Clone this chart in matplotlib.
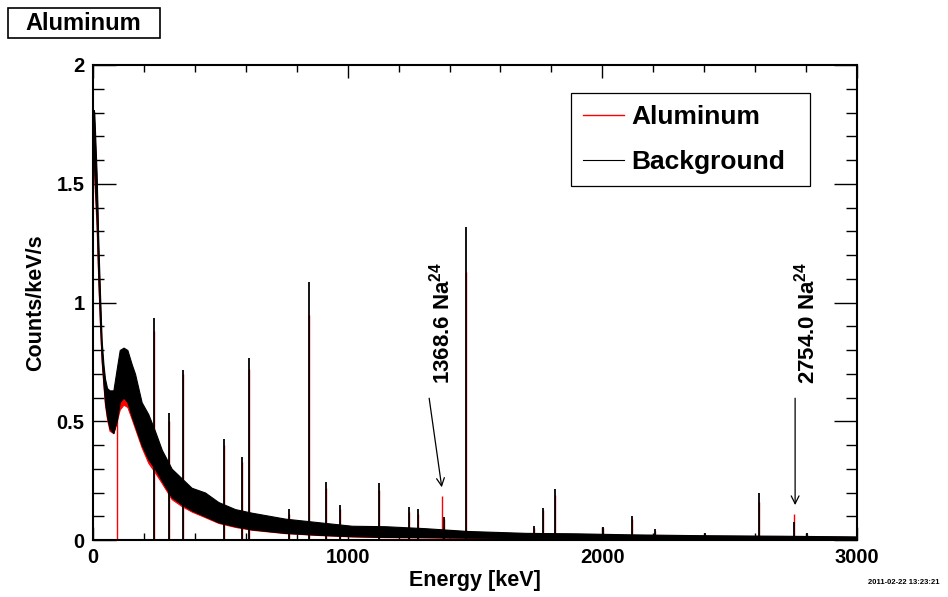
import matplotlib
matplotlib.use('Agg')
import matplotlib.pyplot as plt
from matplotlib.lines import Line2D
from matplotlib.patches import Rectangle
from matplotlib.ticker import MultipleLocator

# ---- data (Counts/keV/s) ----
energy = [3, 5, 14, 21, 28, 34, 41, 47, 55, 65, 80, 93, 105, 120, 135, 152, 165,
          191, 217, 243, 270, 309, 348, 387, 440, 492, 558, 623, 754, 885, 1016,
          1147, 1300, 1470, 1700, 1900, 2100, 2400, 2700, 3000]

# background: noisy band, lower / upper edge
bg_low = [1.70, 1.55, 1.35, 1.10, 0.90, 0.76, 0.66, 0.58, 0.52, 0.47, 0.45, 0.50,
          0.58, 0.60, 0.58, 0.52, 0.48, 0.40, 0.34, 0.30, 0.25, 0.18, 0.15, 0.125,
          0.10, 0.075, 0.058, 0.045, 0.030, 0.022, 0.016, 0.013, 0.012, 0.010,
          0.008, 0.006, 0.005, 0.004, 0.003, 0.002]
bg_high = [1.81, 1.80, 1.55, 1.25, 1.02, 0.84, 0.74, 0.68, 0.64, 0.63, 0.63, 0.72,
           0.80, 0.81, 0.80, 0.74, 0.70, 0.58, 0.53, 0.46, 0.38, 0.30, 0.26, 0.22,
           0.20, 0.16, 0.13, 0.115, 0.090, 0.075, 0.060, 0.058, 0.050, 0.038,
           0.030, 0.028, 0.024, 0.020, 0.018, 0.015]

# aluminum sample: noisy band, lower / upper edge
al_low = [1.68, 1.52, 1.32, 1.08, 0.89, 0.75, 0.65, 0.57, 0.51, 0.46, 0.45, 0.50,
          0.55, 0.57, 0.56, 0.51, 0.47, 0.39, 0.325, 0.285, 0.24, 0.172, 0.143, 0.12,
          0.096, 0.072, 0.055, 0.043, 0.029, 0.021, 0.015, 0.012, 0.011, 0.009,
          0.007, 0.005, 0.004, 0.003, 0.002, 0.002]
al_high = [1.78, 1.75, 1.50, 1.20, 0.98, 0.80, 0.70, 0.64, 0.60, 0.58, 0.58, 0.62,
           0.66, 0.68, 0.66, 0.64, 0.60, 0.52, 0.45, 0.40, 0.33, 0.26, 0.22, 0.19,
           0.17, 0.14, 0.115, 0.100, 0.080, 0.065, 0.052, 0.050, 0.045, 0.034,
           0.027, 0.025, 0.021, 0.018, 0.016, 0.013]

# gamma lines
peak_energy = [241, 297, 353, 513, 585, 612, 770, 850, 914, 971, 1122, 1241, 1277,
               1368.6, 1380, 1465, 1732, 1766, 1814, 2001, 2115, 2206, 2403, 2616,
               2754, 2804]
bg_peak = [0.935, 0.535, 0.716, 0.425, 0.35, 0.766, 0.13, 1.088, 0.244, 0.147, 0.24,
           0.14, 0.13, 0.0, 0.098, 1.32, 0.058, 0.136, 0.215, 0.056, 0.10, 0.046,
           0.03, 0.198, 0.077, 0.03]
al_peak = [0.88, 0.50, 0.70, 0.40, 0.33, 0.72, 0.11, 0.947, 0.22, 0.13, 0.21, 0.12,
           0.11, 0.185, 0.09, 1.13, 0.05, 0.125, 0.19, 0.05, 0.09, 0.04, 0.025,
           0.16, 0.11, 0.025]

# empty bin in the aluminum spectrum
al_gap_energy = 93
al_gap_top = 0.60

# Na-24 labels
na_labels = ['1368.6 Na$^{24}$', '2754.0 Na$^{24}$']
na_label_x = [1368.6, 2800]
na_arrow_tail = [(1320, 0.597), (2757, 0.597)]
na_arrow_head = [(1369.5, 0.222), (2757, 0.147)]

plt.rcParams['font.family'] = ['Liberation Sans', 'DejaVu Sans']
plt.rcParams['font.weight'] = 'bold'
plt.rcParams['mathtext.fontset'] = 'custom'
plt.rcParams['mathtext.rm'] = 'Liberation Sans:bold'
plt.rcParams['mathtext.it'] = 'Liberation Sans:bold'
plt.rcParams['mathtext.bf'] = 'Liberation Sans:bold'

fig = plt.figure(figsize=(9.48, 5.97), dpi=100)
ax = fig.add_axes([93 / 948, 57 / 597, 764 / 948, 475 / 597])

RED = '#ff0000'

# aluminum first, background drawn over it
ax.fill_between(energy, al_low, al_high, color=RED, lw=0.8, zorder=2)
ax.vlines(al_gap_energy, 0, al_gap_top, color=RED, lw=1.0, zorder=2)
ax.vlines(peak_energy, 0, al_peak, color=RED, lw=1.0, zorder=2)
ax.fill_between(energy, bg_low, bg_high, color='black', lw=0.8, zorder=3)
ax.vlines(peak_energy, 0, bg_peak, color='black', lw=1.3, zorder=4)

for lab, lx, tail, head in zip(na_labels, na_label_x, na_arrow_tail, na_arrow_head):
    ax.text(lx, 0.655, lab, rotation=90, ha='center', va='bottom', fontsize=16,
            fontweight='bold')
    ax.annotate('', xy=head, xytext=tail,
                arrowprops=dict(arrowstyle='->', lw=0.9, color='black',
                                mutation_scale=14, shrinkA=0, shrinkB=0))

ax.set_xlim(0, 3000)
ax.set_ylim(0, 2)
ax.xaxis.set_major_locator(MultipleLocator(1000))
ax.xaxis.set_minor_locator(MultipleLocator(200))
ax.yaxis.set_major_locator(MultipleLocator(0.5))
ax.yaxis.set_minor_locator(MultipleLocator(0.1))
ax.set_yticks([0, 0.5, 1, 1.5, 2], ['0', '0.5', '1', '1.5', '2'])
ax.tick_params(axis='both', which='both', direction='in', top=True, right=True,
               width=1.0, labelsize=14.5)
ax.tick_params(axis='x', which='major', length=9.5, pad=6)
ax.tick_params(axis='x', which='minor', length=5)
ax.tick_params(axis='y', which='major', length=16.5, pad=6)
ax.tick_params(axis='y', which='minor', length=8)
for lab in ax.get_xticklabels() + ax.get_yticklabels():
    lab.set_fontweight('bold')
for s in ax.spines.values():
    s.set_linewidth(1.5)

ax.set_xlabel('Energy [keV]', fontsize=15.5, fontweight='bold', labelpad=2)
ax.set_ylabel('Counts/keV/s', fontsize=15.5, fontweight='bold', labelpad=7.5)

handles = [Line2D([], [], color=RED, lw=1.0), Line2D([], [], color='black', lw=0.8)]
leg = ax.legend(handles, ['Aluminum', 'Background'], loc='upper left',
                bbox_to_anchor=(0.6257, 0.7516, 0.3128, 0.1894), mode='expand',
                borderaxespad=0, fontsize=19, handlelength=1.55, handletextpad=0.3,
                labelspacing=0.8, borderpad=0.45, fancybox=False, framealpha=1)
leg.get_frame().set_edgecolor('black')
leg.get_frame().set_linewidth(0.9)
for t in leg.get_texts():
    t.set_fontweight('bold')

# title box
fig.patches.append(Rectangle((8 / 948, 1 - 38 / 597), 152 / 948, 30 / 597,
                             transform=fig.transFigure, fc='white', ec='black',
                             lw=1.2))
fig.text(83 / 948, 1 - 23 / 597, 'Aluminum', ha='center', va='center',
         fontsize=17, fontweight='bold')

fig.text(940 / 948, 1 - 583 / 597, '2011-02-22 13:23:21', ha='right',
         va='center', fontsize=5.5, fontweight='bold')

fig.savefig('out.png', dpi=100)
